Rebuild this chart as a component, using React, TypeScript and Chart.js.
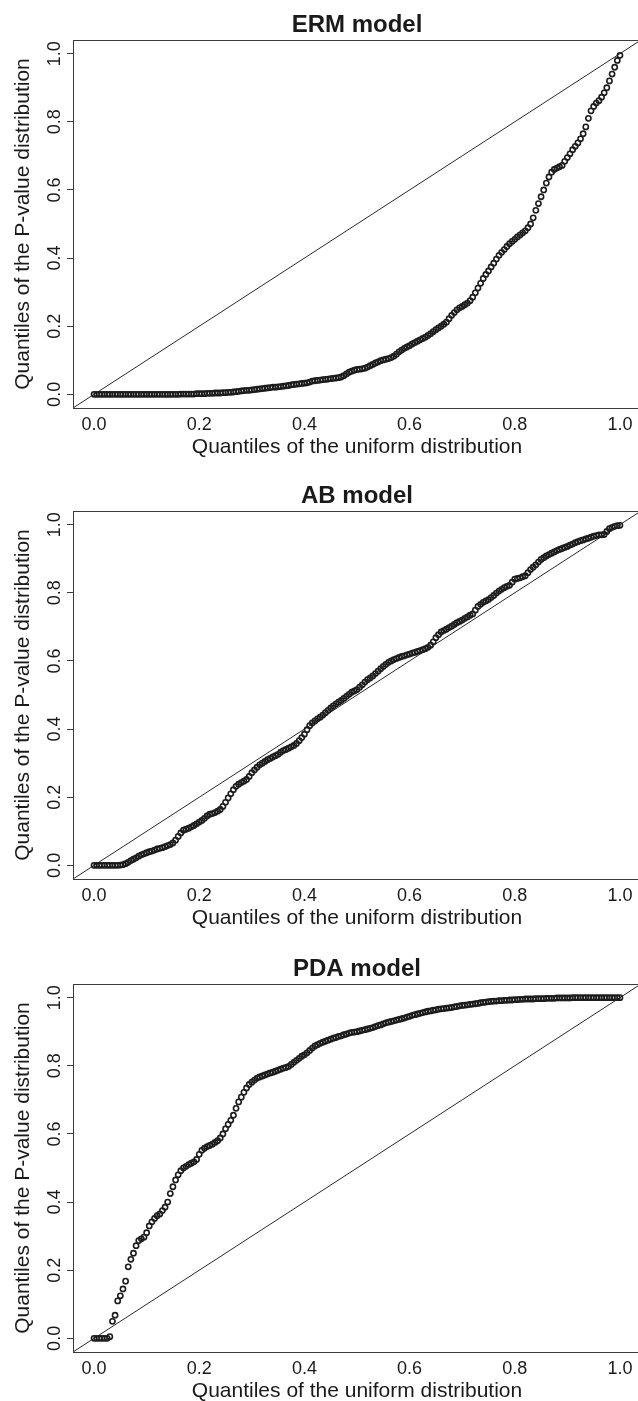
import React, { useEffect, useRef } from "react";
import { Chart, registerables } from "chart.js";

Chart.register(...registerables);

// Uniform-distribution quantiles (x of every panel)
const UNIFORM_QUANTILES = [
  0, 0.005, 0.01, 0.015, 0.02, 0.025, 0.03, 0.035, 0.04, 0.045,
  0.05, 0.055, 0.06, 0.065, 0.07, 0.075, 0.08, 0.085, 0.09, 0.095,
  0.1, 0.105, 0.11, 0.115, 0.12, 0.125, 0.13, 0.135, 0.14, 0.145,
  0.15, 0.155, 0.16, 0.165, 0.17, 0.175, 0.18, 0.185, 0.19, 0.195,
  0.2, 0.205, 0.21, 0.215, 0.22, 0.225, 0.23, 0.235, 0.24, 0.245,
  0.25, 0.255, 0.26, 0.265, 0.27, 0.275, 0.28, 0.285, 0.29, 0.295,
  0.3, 0.305, 0.31, 0.315, 0.32, 0.325, 0.33, 0.335, 0.34, 0.345,
  0.35, 0.355, 0.36, 0.365, 0.37, 0.375, 0.38, 0.385, 0.39, 0.395,
  0.4, 0.405, 0.41, 0.415, 0.42, 0.425, 0.43, 0.435, 0.44, 0.445,
  0.45, 0.455, 0.46, 0.465, 0.47, 0.475, 0.48, 0.485, 0.49, 0.495,
  0.5, 0.505, 0.51, 0.515, 0.52, 0.525, 0.53, 0.535, 0.54, 0.545,
  0.55, 0.555, 0.56, 0.565, 0.57, 0.575, 0.58, 0.585, 0.59, 0.595,
  0.6, 0.605, 0.61, 0.615, 0.62, 0.625, 0.63, 0.635, 0.64, 0.645,
  0.65, 0.655, 0.66, 0.665, 0.67, 0.675, 0.68, 0.685, 0.69, 0.695,
  0.7, 0.705, 0.71, 0.715, 0.72, 0.725, 0.73, 0.735, 0.74, 0.745,
  0.75, 0.755, 0.76, 0.765, 0.77, 0.775, 0.78, 0.785, 0.79, 0.795,
  0.8, 0.805, 0.81, 0.815, 0.82, 0.825, 0.83, 0.835, 0.84, 0.845,
  0.85, 0.855, 0.86, 0.865, 0.87, 0.875, 0.88, 0.885, 0.89, 0.895,
  0.9, 0.905, 0.91, 0.915, 0.92, 0.925, 0.93, 0.935, 0.94, 0.945,
  0.95, 0.955, 0.96, 0.965, 0.97, 0.975, 0.98, 0.985, 0.99, 0.995,
  1,
];

// P-value quantiles
const ERM_QUANTILES = [
  0, 0, 0, 0, 0, 0, 0, 0, 0, 0,
  0, 0, 0, 0, 0, 0, 0, 0, 0, 0,
  0, 0, 0, 0, 0, 0, 0, 0, 0, 0,
  0, 0, 0, 0.001, 0.001, 0.001, 0.001, 0.001, 0.001, 0.002,
  0.002, 0.002, 0.002, 0.003, 0.003, 0.003, 0.004, 0.004, 0.004, 0.005,
  0.005, 0.006, 0.006, 0.007, 0.008, 0.009, 0.01, 0.011, 0.012, 0.012,
  0.013, 0.014, 0.015, 0.016, 0.017, 0.018, 0.019, 0.02, 0.021, 0.021,
  0.022, 0.023, 0.024, 0.025, 0.026, 0.028, 0.029, 0.03, 0.031, 0.032,
  0.033, 0.034, 0.036, 0.039, 0.04, 0.041, 0.042, 0.043, 0.044, 0.045,
  0.046, 0.047, 0.048, 0.049, 0.051, 0.055, 0.06, 0.065, 0.068, 0.071,
  0.073, 0.074, 0.075, 0.077, 0.08, 0.084, 0.088, 0.092, 0.095, 0.099,
  0.101, 0.103, 0.105, 0.108, 0.112, 0.118, 0.125, 0.13, 0.135, 0.139,
  0.143, 0.148, 0.152, 0.156, 0.16, 0.164, 0.168, 0.173, 0.178, 0.184,
  0.19, 0.195, 0.2, 0.206, 0.212, 0.222, 0.232, 0.24, 0.248, 0.254,
  0.258, 0.263, 0.268, 0.275, 0.285, 0.298, 0.312, 0.326, 0.34, 0.352,
  0.362, 0.374, 0.385, 0.397, 0.408, 0.417, 0.425, 0.434, 0.442, 0.449,
  0.455, 0.462, 0.468, 0.474, 0.48, 0.489, 0.5, 0.518, 0.54, 0.56,
  0.58, 0.6, 0.62, 0.638, 0.652, 0.66, 0.664, 0.668, 0.672, 0.684,
  0.695, 0.706, 0.718, 0.728, 0.738, 0.75, 0.765, 0.785, 0.81, 0.832,
  0.845, 0.855, 0.862, 0.872, 0.885, 0.9, 0.92, 0.94, 0.96, 0.98,
  0.995,
];

const AB_QUANTILES = [
  0, 0, 0, 0, 0, 0, 0, 0, 0, 0,
  0.001, 0.002, 0.005, 0.009, 0.014, 0.018, 0.022, 0.027, 0.031, 0.034,
  0.037, 0.04, 0.042, 0.045, 0.048, 0.05, 0.052, 0.055, 0.058, 0.061,
  0.066, 0.074, 0.085, 0.095, 0.103, 0.106, 0.109, 0.113, 0.117, 0.122,
  0.127, 0.132, 0.138, 0.145, 0.15, 0.152, 0.155, 0.159, 0.164, 0.173,
  0.185, 0.198, 0.21, 0.222, 0.232, 0.238, 0.243, 0.247, 0.252, 0.261,
  0.272, 0.28, 0.288, 0.295, 0.3, 0.305, 0.31, 0.314, 0.318, 0.322,
  0.326, 0.332, 0.337, 0.34, 0.344, 0.348, 0.352, 0.358, 0.366, 0.375,
  0.385, 0.398, 0.41, 0.418, 0.424, 0.43, 0.435, 0.441, 0.448, 0.455,
  0.462, 0.468, 0.474, 0.479, 0.484, 0.49, 0.496, 0.502, 0.508, 0.512,
  0.516, 0.523, 0.53, 0.538, 0.545, 0.55, 0.556, 0.563, 0.57, 0.577,
  0.584, 0.59, 0.596, 0.6, 0.604, 0.607, 0.61, 0.613, 0.615, 0.618,
  0.62, 0.623, 0.625, 0.628, 0.63, 0.633, 0.636, 0.64, 0.646, 0.656,
  0.668, 0.677, 0.685, 0.689, 0.693, 0.698, 0.702, 0.707, 0.712, 0.716,
  0.72, 0.725, 0.729, 0.734, 0.738, 0.749, 0.76, 0.766, 0.772, 0.776,
  0.78, 0.786, 0.792, 0.799, 0.805, 0.81, 0.815, 0.819, 0.822, 0.831,
  0.84, 0.842, 0.844, 0.847, 0.85, 0.859, 0.868, 0.875, 0.882, 0.89,
  0.898, 0.903, 0.908, 0.912, 0.916, 0.92, 0.924, 0.927, 0.93, 0.933,
  0.936, 0.94, 0.943, 0.947, 0.95, 0.953, 0.955, 0.958, 0.96, 0.963,
  0.966, 0.968, 0.97, 0.97, 0.971, 0.98, 0.988, 0.992, 0.995, 0.997,
  0.998,
];

const PDA_QUANTILES = [
  0, 0, 0, 0, 0, 0, 0.005, 0.05, 0.068, 0.11,
  0.125, 0.145, 0.168, 0.21, 0.232, 0.25, 0.272, 0.287, 0.292, 0.297,
  0.31, 0.33, 0.342, 0.352, 0.36, 0.365, 0.375, 0.385, 0.4, 0.425,
  0.445, 0.465, 0.48, 0.492, 0.5, 0.505, 0.51, 0.514, 0.518, 0.525,
  0.54, 0.552, 0.558, 0.563, 0.566, 0.57, 0.575, 0.58, 0.588, 0.6,
  0.615, 0.628, 0.64, 0.655, 0.675, 0.694, 0.708, 0.722, 0.735, 0.745,
  0.752, 0.758, 0.764, 0.767, 0.77, 0.773, 0.776, 0.779, 0.781, 0.784,
  0.787, 0.79, 0.793, 0.795, 0.798, 0.804, 0.81, 0.816, 0.822, 0.828,
  0.832, 0.838, 0.845, 0.852, 0.858, 0.862, 0.866, 0.869, 0.872, 0.875,
  0.878, 0.881, 0.883, 0.886, 0.888, 0.891, 0.893, 0.896, 0.898, 0.899,
  0.9, 0.902, 0.904, 0.906, 0.908, 0.91, 0.912, 0.915, 0.918, 0.92,
  0.923, 0.926, 0.928, 0.93, 0.932, 0.934, 0.936, 0.938, 0.94, 0.943,
  0.945, 0.948, 0.95, 0.952, 0.954, 0.956, 0.958, 0.96, 0.961, 0.963,
  0.964, 0.966, 0.967, 0.968, 0.969, 0.97, 0.971, 0.973, 0.974, 0.976,
  0.977, 0.978, 0.979, 0.98, 0.981, 0.982, 0.983, 0.985, 0.986, 0.987,
  0.988, 0.989, 0.99, 0.99, 0.991, 0.991, 0.992, 0.992, 0.993, 0.993,
  0.994, 0.994, 0.995, 0.995, 0.996, 0.996, 0.996, 0.996, 0.997, 0.997,
  0.997, 0.997, 0.998, 0.998, 0.998, 0.998, 0.999, 0.999, 0.999, 0.999,
  0.999, 0.999, 1, 1, 1, 1, 1, 1, 1, 1,
  1, 1, 1, 1, 1, 1, 1, 1, 1, 1,
  1,
];

const PANEL_TITLES = ["ERM model", "AB model", "PDA model"];
const PANEL_SERIES = [ERM_QUANTILES, AB_QUANTILES, PDA_QUANTILES];
const AXIS_TICKS = [0, 0.2, 0.4, 0.6, 0.8, 1.0];
const AXIS_TICK_LABELS = ["0.0", "0.2", "0.4", "0.6", "0.8", "1.0"];
const AXIS_RANGE = [-0.04, 1.04];
const REFERENCE_LINE = [-0.04, 1.04]; // y = x
const X_TITLE = "Quantiles of the uniform distribution";
const Y_TITLE = "Quantiles of the P-value distribution";

const FONT = '"Liberation Sans", Arial, Helvetica, sans-serif';
const INK = "#1a1a1a";

const CANVAS_W = 650;
const CANVAS_H = 470;
const PANEL_TOPS = [0, 471, 944];

const decorPlugin = {
  id: "rDecor",
  afterDraw(chart: any, _args: any, opts: any) {
    const { ctx, chartArea } = chart;
    const { left, right, top, bottom } = chartArea;
    const xs = chart.scales.x;
    const ys = chart.scales.y;
    ctx.save();
    ctx.strokeStyle = "#3a3a3a";
    ctx.lineWidth = 1;
    ctx.strokeRect(Math.round(left) + 0.5, Math.round(top) + 0.5, Math.round(right - left), Math.round(bottom - top));
    ctx.fillStyle = INK;
    const cx = (left + right) / 2;
    ctx.font = `bold 24px ${FONT}`;
    ctx.textAlign = "center";
    ctx.textBaseline = "alphabetic";
    ctx.fillText(opts.title, cx, top - 8.5);
    ctx.font = `18px ${FONT}`;
    AXIS_TICKS.forEach((v, i) => {
      ctx.fillText(AXIS_TICK_LABELS[i], xs.getPixelForValue(v), bottom + 21.5);
    });
    ctx.font = `21px ${FONT}`;
    ctx.fillText(X_TITLE, cx, bottom + 44.5);
    ctx.font = `18px ${FONT}`;
    AXIS_TICKS.forEach((v, i) => {
      ctx.save();
      ctx.translate(left - 13.3, ys.getPixelForValue(v));
      ctx.rotate(-Math.PI / 2);
      ctx.fillText(AXIS_TICK_LABELS[i], 0, 0);
      ctx.restore();
    });
    ctx.font = `21px ${FONT}`;
    ctx.save();
    ctx.translate(28.5, (top + bottom) / 2);
    ctx.rotate(-Math.PI / 2);
    ctx.fillText(Y_TITLE, 0, 0);
    ctx.restore();
    ctx.restore();
  },
};

function QQPanel({ index }: { index: number }) {
  const ref = useRef<HTMLCanvasElement | null>(null);
  useEffect(() => {
    if (!ref.current) return;
    const series = PANEL_SERIES[index];
    const points = UNIFORM_QUANTILES.map((x, i) => ({ x, y: series[i] }));
    const chart = new Chart(ref.current, {
      type: "scatter",
      data: {
        datasets: [
          {
            data: points,
            pointStyle: "circle",
            pointRadius: 2.6,
            pointBorderWidth: 1.6,
            pointBorderColor: "#1c1c1c",
            pointBackgroundColor: "rgba(255,255,255,0)",
            showLine: false,
            order: 0,
          } as any,
          {
            type: "line",
            data: REFERENCE_LINE.map((v) => ({ x: v, y: v })),
            borderColor: "#2a2a2a",
            borderWidth: 1,
            pointRadius: 0,
            fill: false,
            order: 1,
          } as any,
        ],
      },
      options: {
        responsive: false,
        animation: false,
        devicePixelRatio: 1,
        layout: { padding: { top: 40, right: 9, left: 0, bottom: 0 } },
        plugins: {
          legend: { display: false },
          tooltip: { enabled: false },
          title: { display: false },
          rDecor: { title: PANEL_TITLES[index] },
        } as any,
        scales: {
          x: {
            type: "linear",
            min: AXIS_RANGE[0],
            max: AXIS_RANGE[1],
            grid: { display: false, drawTicks: false },
            border: { display: false },
            ticks: { display: false },
            afterBuildTicks: (s: any) => {
              s.ticks = AXIS_TICKS.map((v) => ({ value: v }));
            },
            afterFit: (s: any) => {
              s.height = CANVAS_H - 40 - 368;
            },
          },
          y: {
            type: "linear",
            min: AXIS_RANGE[0],
            max: AXIS_RANGE[1],
            grid: {
              display: true,
              drawOnChartArea: false,
              drawTicks: true,
              tickLength: 6,
              color: "#3a3a3a",
              lineWidth: 1,
            },
            border: { display: false },
            ticks: { display: false },
            afterBuildTicks: (s: any) => {
              s.ticks = AXIS_TICKS.map((v) => ({ value: v }));
            },
            afterFit: (s: any) => {
              s.width = 73;
            },
          },
        },
      },
      plugins: [decorPlugin],
    });
    return () => chart.destroy();
  }, [index]);
  return (
    <canvas
      ref={ref}
      width={CANVAS_W}
      height={CANVAS_H}
      style={{
        position: "absolute",
        left: 0,
        top: PANEL_TOPS[index],
        width: CANVAS_W,
        height: CANVAS_H,
      }}
    />
  );
}

export default function App() {
  return (
    <div
      style={{
        position: "absolute",
        left: 0,
        top: 0,
        width: 638,
        height: 1401,
        overflow: "hidden",
        background: "#ffffff",
      }}
    >
      {PANEL_TITLES.map((_, i) => (
        <QQPanel key={i} index={i} />
      ))}
    </div>
  );
}
